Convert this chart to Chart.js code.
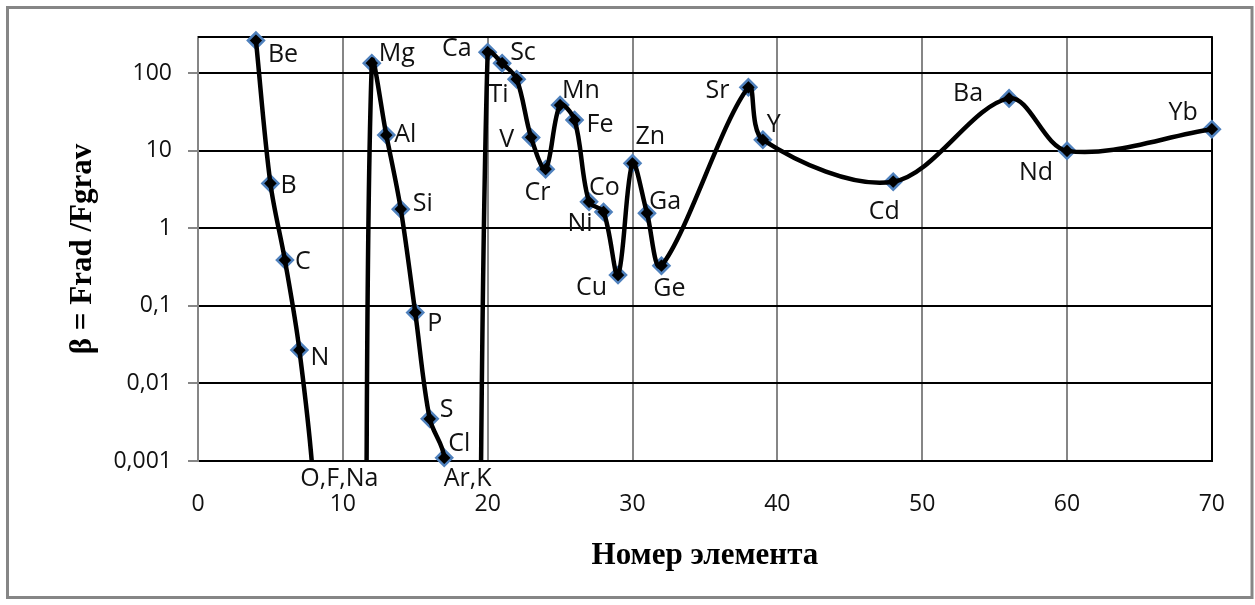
<!DOCTYPE html>
<html>
<head>
<meta charset="utf-8">
<script src="https://cdn.jsdelivr.net/npm/chart.js@4.4.1/dist/chart.umd.min.js"></script>
<style>
  html, body { margin: 0; padding: 0; background: #fff; }
  #wrap { width: 1255px; height: 605px; position: relative; }
</style>
</head>
<body>
<div id="wrap"><canvas id="chart" width="1255" height="605"></canvas></div>
<script>
// Elements, their atomic numbers and the ratio beta = Frad / Fgrav
const elements = ['Be','B','C','N','O','F','Na','Mg','Al','Si','P','S','Cl','Ar','K','Ca','Sc','Ti','V','Cr','Mn','Fe','Co','Ni','Cu','Zn','Ga','Ge','Sr','Y','Cd','Ba','Nd','Yb'];
const atomicNumbers = [4,5,6,7,8,9,11,12,13,14,15,16,17,18,19,20,21,22,23,24,25,26,27,28,29,30,31,32,38,39,48,56,60,70];
const betaValues = [265,3.8,0.39,0.027,4e-4,5e-10,5e-10,135,16,1.77,0.082,0.0035,0.0011,5e-11,5e-11,187,135,84,14.9,5.8,39,25,2.2,1.63,0.25,6.9,1.57,0.33,66,13.9,4.0,47.5,10,19];
// Text written next to each point (elements below the axis share one label)
const pointLabels = ['Be','B','C','N','','O,F,Na','','Mg','Al','Si','P','S','Cl','Ar,K','','Ca','Sc','Ti','V','Cr','Mn','Fe','Co','Ni','Cu','Zn','Ga','Ge','Sr','Y','Cd','Ba','Nd','Yb'];
const yTickValues = [0.001, 0.01, 0.1, 1, 10, 100];
const yTickLabels = ['0,001', '0,01', '0,1', '1', '10', '100'];
const xTitle = 'Номер элемента';
const yTitle = 'β = Frad /Fgrav';

const Y_MIN = 0.001, Y_MAX = 294;
const GRAY = '#868686';
const BLUE = '#4f81bd';
const LABEL_FONT = '25px "Open Sans"';
const TICK_FONT = { family: 'Open Sans', size: 23 };
const TITLE_FONT = { family: 'Liberation Serif', size: 31, weight: 'bold' };
const MARKER_R = 8;

// label anchor: [textAlign, dx, dy] relative to the marker centre
const labelPlacement = {
  'Be': ['left', 12, 14],  'B': ['left', 10, 2],   'C': ['left', 10, 2],   'N': ['left', 11, 8],
  'O,F,Na': ['center', 11, 18],
  'Mg': ['left', 7, -9],   'Al': ['left', 8, 0],   'Si': ['left', 12, -5], 'P': ['left', 12, 11],
  'S': ['left', 10, -9],   'Cl': ['left', 4, -14],
  'Ar,K': ['center', 9, 18],
  'Ca': ['right', -16, -3], 'Sc': ['left', 8, -10], 'Ti': ['right', -8, 16], 'V': ['right', -17, 2],
  'Cr': ['center', -8, 24], 'Mn': ['left', 2, -14], 'Fe': ['left', 12, 5], 'Co': ['left', 0, -14],
  'Ni': ['right', -11, 12], 'Cu': ['right', -11, 13], 'Zn': ['left', 3, -26], 'Ga': ['left', 2, -11],
  'Ge': ['center', 8, 23], 'Sr': ['right', -19, 4], 'Y': ['left', 4, -15], 'Cd': ['center', -9, 30],
  'Ba': ['right', -26, -5], 'Nd': ['right', -14, 22], 'Yb': ['right', -14, -16]
};

const points = atomicNumbers.map((x, i) => ({ x: x, y: betaValues[i] }));

// white page with a grey frame
const framePlugin = {
  id: 'frame',
  beforeDraw(chart) {
    const ctx = chart.ctx;
    ctx.save();
    ctx.fillStyle = '#fff';
    ctx.fillRect(0, 0, chart.width, chart.height);
    ctx.strokeStyle = GRAY;
    ctx.lineWidth = 3;
    ctx.strokeRect(7.5, 7.5, 1244.5, 590);
    ctx.restore();
  }
};

// black line closing the plot area at the top
const topEdgePlugin = {
  id: 'topEdge',
  beforeDatasetsDraw(chart) {
    const { ctx, chartArea } = chart;
    ctx.save();
    ctx.strokeStyle = '#000';
    ctx.lineWidth = 2;
    ctx.beginPath();
    ctx.moveTo(chartArea.left, chartArea.top);
    ctx.lineTo(chartArea.right + 1, chartArea.top);
    ctx.stroke();
    ctx.restore();
  }
};

// element symbols beside the markers
const labelPlugin = {
  id: 'elementLabels',
  afterDatasetsDraw(chart) {
    const { ctx, chartArea } = chart;
    const xs = chart.scales.x, ys = chart.scales.y;
    ctx.save();
    ctx.font = LABEL_FONT;
    ctx.fillStyle = '#111';
    ctx.textBaseline = 'middle';
    points.forEach((p, i) => {
      const text = pointLabels[i];
      if (!text) return;
      const place = labelPlacement[text] || ['left', 10, 0];
      const px = xs.getPixelForValue(p.x);
      const py = p.y < Y_MIN ? chartArea.bottom : ys.getPixelForValue(p.y);
      ctx.textAlign = place[0];
      ctx.fillText(text, px + place[1], py + place[2]);
    });
    ctx.restore();
  }
};

const markerRadius = ctx => (ctx.raw && ctx.raw.y < Y_MIN ? 0 : MARKER_R);

new Chart(document.getElementById('chart'), {
  type: 'line',
  data: {
    labels: elements,
    datasets: [
      {
        data: points,
        borderColor: '#000',
        borderWidth: 4.5,
        tension: 0.33,
        pointRadius: 0,
        pointHoverRadius: 0,
        fill: false,
        clip: 0
      },
      {
        data: points,
        showLine: false,
        pointStyle: 'rectRot',
        pointRadius: markerRadius,
        pointHoverRadius: markerRadius,
        pointBorderWidth: 2.5,
        pointBackgroundColor: '#000',
        pointBorderColor: BLUE,
        clip: false
      }
    ]
  },
  options: {
    responsive: false,
    animation: false,
    devicePixelRatio: 1,
    layout: { padding: { top: 37, right: 43, bottom: 0, left: 0 } },
    plugins: {
      legend: { display: false },
      tooltip: { enabled: false }
    },
    scales: {
      x: {
        type: 'linear',
        min: 0,
        max: 70,
        afterFit(scale) { scale.height = 144; },
        ticks: { stepSize: 10, padding: 30, color: '#111', font: TICK_FONT, maxRotation: 0 },
        grid: {
          drawTicks: false,
          lineWidth: 2,
          color: c => (c.tick && c.tick.value === 70 ? '#000' : GRAY)
        },
        border: { color: '#000', width: 2 },
        title: { display: true, text: xTitle, color: '#000', font: TITLE_FONT, padding: { top: 0, bottom: 30 } }
      },
      y: {
        type: 'logarithmic',
        min: Y_MIN,
        max: Y_MAX,
        afterFit(scale) { scale.width = 198; },
        afterBuildTicks(scale) { scale.ticks = yTickValues.map(v => ({ value: v })); },
        ticks: {
          padding: 16,
          color: '#111',
          font: TICK_FONT,
          autoSkip: false,
          callback: (value) => {
            const i = yTickValues.findIndex(v => Math.abs(v - value) / v < 1e-6);
            return i >= 0 ? yTickLabels[i] : '';
          }
        },
        grid: { color: '#000', lineWidth: 2, tickColor: GRAY, tickLength: 10, tickWidth: 2 },
        border: { color: GRAY, width: 2 },
        title: { display: true, text: yTitle, color: '#000', font: TITLE_FONT, padding: { top: 64, bottom: 0 } }
      }
    }
  },
  plugins: [framePlugin, topEdgePlugin, labelPlugin]
});
</script>
</body>
</html>
